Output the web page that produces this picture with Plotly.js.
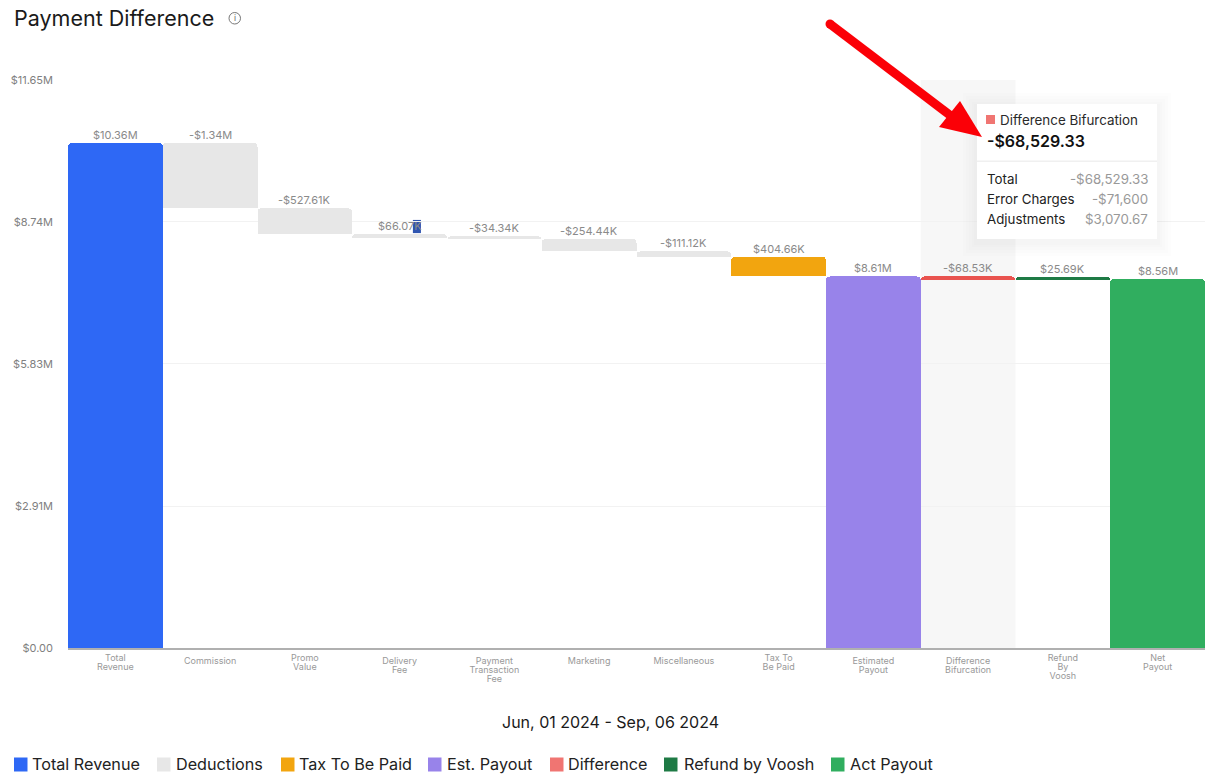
<!DOCTYPE html>
<html>
<head>
<meta charset="utf-8">
<script src="https://cdn.plot.ly/plotly-3.0.1.min.js"></script>
<style>html,body{margin:0;padding:0;background:#fff}#chart{width:1218px;height:784px}</style>
</head>
<body>
<div id="chart"></div>
<script>
// ---- data ----
const categories = ["Total<br>Revenue","Commission","Promo<br>Value","Delivery<br>Fee","Payment<br>Transaction<br>Fee","Marketing","Miscellaneous","Tax To<br>Be Paid","Estimated<br>Payout","Difference<br>Bifurcation","Refund<br>By<br>Voosh","Net<br>Payout"];
const barHeights = [10.36,1.34,0.52761,0.08,0.055,0.25444,0.11112,0.40466,7.62,0.0685,0.06,7.57];
const barBases   = [0,9.02,8.49,8.41,8.39,8.135,8.024,7.62,0,7.552,7.552,0];
const barLabels  = ["$10.36M","-$1.34M","-$527.61K","$66.07K","-$34.34K","-$254.44K","-$111.12K","$404.66K","$8.61M","-$68.53K","$25.69K","$8.56M"];
const barSeries  = ["Total Revenue","Deductions","Deductions","Deductions","Deductions","Deductions","Deductions","Tax To Be Paid","Est. Payout","Difference","Refund by Voosh","Act Payout"];
const seriesNames  = ["Total Revenue","Deductions","Tax To Be Paid","Est. Payout","Difference","Refund by Voosh","Act Payout"];
const seriesColors = ["#2e68f5","#e7e7e7","#f2a50f","#9883ea","#e9534f","#1e7a45","#30ae5f"];
const swatchColors = ["#2e68f5","#e7e7e7","#f2a50f","#9883ea","#f07572","#1e7a45","#30ae5f"];
const legendSwatchX = [14,157,281,428,550,664,831];
const legendTextX   = [31,175,298,446,567,683,849];
const yTickVals  = [0,2.91,5.83,8.74,11.65];
const yTickText  = ["$0.00","$2.91M","$5.83M","$8.74M","$11.65M"];
const tickShift  = [1,4,1,4,4,4,4,1,4,4,1,1];
const tooltipRows = [["Total","-$68,529.33"],["Error Charges","-$71,600"],["Adjustments","$3,070.67"]];

// ---- layout helpers ----
const W = 1218, H = 784, L = 68, R = 13, T = 80, B = 136;
const px = x => (x - L) / (W - L - R);
const py = y => 1 - (y - T) / (H - T - B);
const font = "Inter, 'Noto Sans', sans-serif";

const spacer = {
  type: "bar", name: "base", x: categories, y: barBases,
  marker: {color: "rgba(0,0,0,0)", line: {width: 0}},
  hoverinfo: "skip", showlegend: false
};
const traces = [spacer].concat(seriesNames.map((name, s) => {
  const idx = categories.map((_, i) => i).filter(i => barSeries[i] === name);
  return {
    type: "bar", name,
    x: idx.map(i => categories[i]),
    y: idx.map(i => barHeights[i]),
    marker: {color: seriesColors[s], line: {width: 0}},
    hoverinfo: "skip",
    showlegend: false
  };
}));

const rect = (x0, y0, x1, y1, fill, layer) => ({
  type: "rect", xref: "paper", yref: "paper", layer: layer || "above",
  x0: px(x0), x1: px(x1), y0: py(y0), y1: py(y1),
  fillcolor: fill, line: {width: 0}
});
const text = (x, y, t, size, color, anchor, extra) => Object.assign({
  xref: "paper", yref: "paper", x: px(x), y: py(y), text: t, showarrow: false,
  xanchor: anchor || "left", yanchor: "middle",
  font: {family: font, size, color}, borderpad: 0
}, extra || {});

const shapes = [
  // hover band on the Difference Bifurcation column
  {type: "rect", xref: "x", yref: "y", layer: "below", x0: 8.5, x1: 9.5, y0: 0, y1: 11.65, fillcolor: "#f7f7f7", line: {width: 0}},
  // selected "K" highlight
  {type: "rect", xref: "x", yref: "y", layer: "below", x0: 3.14, x1: 3.225, y0: 8.51, y1: 8.78, fillcolor: "#2f55b0", line: {width: 0}}
];
// tooltip shadow and box
[14,11,8,5,3].forEach(d => shapes.push(rect(977-d, 104-d+3, 1157+d, 239+d+3, "rgba(0,0,0,0.007)")));
shapes.push(rect(977,104,1157,239,"#ffffff"));
shapes.push(rect(977,160.5,1157,162,"#f0f0f0"));
shapes.push(rect(986,115,995,124,swatchColors[4]));
// legend swatches
swatchColors.forEach((c, i) => shapes.push(rect(legendSwatchX[i],757.5,legendSwatchX[i]+13.5,771.5,c)));
// info icon
shapes.push({type:"circle",xref:"paper",yref:"paper",layer:"above",x0:px(229),x1:px(240.5),y0:py(12.5),y1:py(24),line:{color:"#777",width:1},fillcolor:"#fff"});
// red arrow
shapes.push({type:"line",xref:"paper",yref:"paper",layer:"above",x0:px(830),y0:py(24),x1:px(955),y1:py(119),line:{color:"#fb0007",width:9}});
shapes.push({type:"circle",xref:"paper",yref:"paper",layer:"above",x0:px(825.5),x1:px(834.5),y0:py(19.5),y1:py(28.5),fillcolor:"#fb0007",line:{width:0}});
shapes.push({type:"path",xref:"paper",yref:"paper",layer:"above",
  path:`M ${px(982)} ${py(137)} L ${px(939)} ${py(127)} L ${px(960)} ${py(101)} Z`,fillcolor:"#fb0007",line:{width:0}});

const annotations = [
  text(13,18,"Payment Difference",21.5,"#1a1a1a"),
  text(234.75,18.5,"i",8.5,"#666","center"),
  text(610,722,"Jun, 01 2024 - Sep, 06 2024",16,"#1a1a1a","center"),
  text(999,120,"Difference Bifurcation",13.4,"#2a2a2a"),
  text(986,141,"-$68,529.33",16,"#111","left",{font:{family:font,size:16,color:"#111",weight:600}})
];
tooltipRows.forEach((r, i) => {
  annotations.push(text(986,179+20*i,r[0],13.3,"#222"));
  annotations.push(text(1149,179+20*i,r[1],13.3,"#999","right"));
});
seriesNames.forEach((n, i) => annotations.push(text(legendTextX[i],764,n,16.2,"#222")));
// value labels, anchored to the top of each bar
barLabels.forEach((t, i) => annotations.push({
  xref: "x", yref: "y", x: i, y: barBases[i] + barHeights[i], text: t, showarrow: false,
  xanchor: "center", yanchor: "middle", yshift: 8,
  font: {family: font, size: 11, color: "#8a8a8a"}
}));

const layout = {
  width: W, height: H,
  margin: {l: L, r: R, t: T, b: B, pad: 0},
  paper_bgcolor: "#fff", plot_bgcolor: "#fff",
  barmode: "stack", bargap: 0, barcornerradius: 4,
  showlegend: false, hovermode: false,
  xaxis: {type: "category", categoryorder: "array", categoryarray: categories,
    range: [-0.5, 11.5], showgrid: false, zeroline: false, fixedrange: true,
    showline: true, linecolor: "#b0b0b0", linewidth: 1.5, ticks: "",
    tickfont: {family: font, size: 9, color: "#999"}, tickangle: 0, automargin: false},
  yaxis: {range: [0, 11.65], tickmode: "array", tickvals: yTickVals, ticktext: yTickText,
    showgrid: true, gridcolor: "#f2f2f2", gridwidth: 1, zeroline: false, showline: false, fixedrange: true,
    ticks: "", ticklabelstandoff: 14, tickfont: {family: font, size: 11, color: "#808080"}, automargin: false},
  shapes, annotations
};
Plotly.newPlot("chart", traces, layout, {displayModeBar: false, staticPlot: true}).then(gd => {
  // tighter line spacing and per-label vertical offset on the category ticks
  gd.querySelectorAll(".xtick text").forEach((t, i) => {
    const shift = tickShift[i] || 0;
    const y = parseFloat(t.getAttribute("y")) + shift - 0;
    t.setAttribute("y", y);
    t.querySelectorAll("tspan.line").forEach((s, k) => {
      s.setAttribute("y", y);
      s.setAttribute("dy", (k * 9) + "px");
    });
  });
});
</script>
</body>
</html>
